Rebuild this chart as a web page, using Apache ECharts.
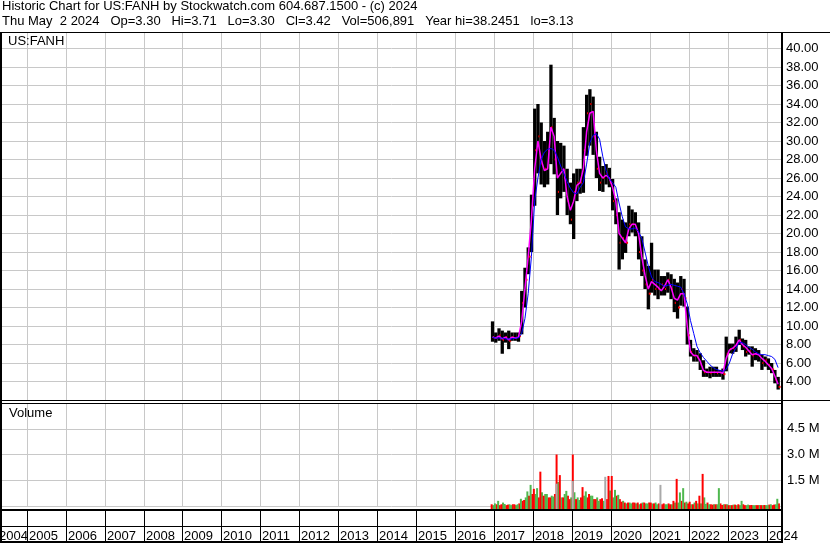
<!DOCTYPE html>
<html>
<head>
<meta charset="utf-8">
<script src="https://cdn.jsdelivr.net/npm/echarts@6/dist/echarts.min.js"></script>
<style>
html, body { margin: 0; padding: 0; background: #fff; }
#main { width: 830px; height: 543px; }
</style>
</head>
<body>
<div id="main"></div>
<script>
// monthly bars, Dec 2016 .. Apr 2024
var months = [
  '2016-12',
  '2017-01','2017-02','2017-03','2017-04','2017-05','2017-06','2017-07','2017-08','2017-09','2017-10','2017-11','2017-12',
  '2018-01','2018-02','2018-03','2018-04','2018-05','2018-06','2018-07','2018-08','2018-09','2018-10','2018-11','2018-12',
  '2019-01','2019-02','2019-03','2019-04','2019-05','2019-06','2019-07','2019-08','2019-09','2019-10','2019-11','2019-12',
  '2020-01','2020-02','2020-03','2020-04','2020-05','2020-06','2020-07','2020-08','2020-09','2020-10','2020-11','2020-12',
  '2021-01','2021-02','2021-03','2021-04','2021-05','2021-06','2021-07','2021-08','2021-09','2021-10','2021-11','2021-12',
  '2022-01','2022-02','2022-03','2022-04','2022-05','2022-06','2022-07','2022-08','2022-09','2022-10','2022-11','2022-12',
  '2023-01','2023-02','2023-03','2023-04','2023-05','2023-06','2023-07','2023-08','2023-09','2023-10','2023-11','2023-12',
  '2024-01','2024-02','2024-03','2024-04'
];
var high = [
  10.5,
  9.3, 9.75, 9.5, 9.3, 9.5, 9.3, 9.3, 9.3, 13.8, 16.3, 18.5, 24.2,
  33.5, 34.0, 32.0, 30.0, 31.0, 38.25, 32.5, 30.0, 29.8, 29.5, 27.0, 25.5,
  26.5, 27.0, 27.0, 31.5, 35.0, 35.6, 34.8, 31.0, 28.3, 27.3, 27.5, 27.1,
  25.9, 23.8, 22.3, 21.5, 21.2, 23.0, 22.6, 22.3, 21.2, 19.7, 17.2, 16.5,
  19.0, 16.1, 16.1, 15.4, 15.4, 15.8, 15.6, 15.1, 14.7, 15.4, 15.1, 12.1,
  8.5, 7.6, 7.4, 7.05, 6.3, 5.4, 5.6, 5.6, 5.6, 5.25, 5.4, 8.85,
  8.1, 8.1, 8.85, 9.6, 8.65, 8.5, 7.8, 7.8, 7.6, 7.4, 6.9, 6.7,
  6.5, 6.0, 5.25, 4.5
];
var low = [
  8.3,
  8.2, 8.4, 7.0, 8.2, 7.5, 8.4, 8.4, 8.3, 9.1, 12.0, 15.6, 18.0,
  23.0, 26.5, 25.3, 25.0, 25.3, 27.5, 26.4, 22.0, 23.8, 24.5, 22.0, 21.0,
  19.4, 23.5, 24.3, 24.4, 28.4, 29.5, 28.5, 26.0, 24.6, 24.5, 25.3, 25.0,
  22.5, 21.0, 16.1, 17.2, 17.9, 19.7, 20.1, 19.7, 17.2, 15.4, 14.0, 11.8,
  13.6, 13.3, 12.9, 13.3, 13.3, 13.6, 12.9, 11.5, 10.8, 12.2, 12.1, 8.0,
  6.7, 6.15, 6.15, 5.25, 4.5, 4.5, 4.35, 4.5, 4.5, 4.5, 4.2, 5.1,
  7.05, 7.0, 7.2, 7.95, 7.4, 6.7, 6.9, 5.6, 6.3, 6.15, 5.25, 5.6,
  5.25, 4.9, 3.8, 3.13
];
var close = [
  8.8,
  8.7, 9.0, 8.5, 8.8, 8.4, 8.8, 8.7, 8.9, 12.5, 15.0, 17.5, 23.0,
  29.0, 30.5, 27.5, 27.0, 29.0, 31.5, 28.0, 24.5, 27.0, 26.0, 23.5, 21.5,
  24.5, 25.5, 25.5, 29.0, 33.0, 34.0, 30.5, 27.0, 25.5, 26.0, 26.5, 25.5,
  23.5, 22.0, 19.0, 19.5, 19.0, 21.0, 21.0, 20.5, 18.0, 16.0, 14.5, 13.5,
  15.0, 14.0, 14.0, 14.5, 14.0, 15.0, 14.0, 12.5, 12.0, 14.0, 13.0, 9.0,
  7.2, 6.8, 6.6, 5.8, 5.0, 5.0, 4.9, 5.0, 4.9, 5.0, 4.8, 7.0,
  7.5, 7.6, 8.0, 8.5, 7.8, 7.2, 7.3, 6.8, 7.0, 6.8, 6.0, 6.3,
  5.8, 5.3, 4.2, 3.42
];
// short average (magenta) and long average (blue)
var maShort = [
  8.8,
  8.7, 8.9, 8.6, 8.8, 8.5, 8.8, 8.7, 8.8, 10.5, 14.0, 17.5, 21.5,
  27.0, 30.0, 28.0, 26.8, 27.0, 31.5, 30.5, 26.0, 26.5, 27.0, 24.0, 22.5,
  23.5, 25.2, 25.5, 27.0, 31.0, 33.0, 33.2, 29.0, 26.5, 26.0, 26.3, 26.0,
  25.0, 23.5, 20.0, 19.5, 19.0, 20.5, 21.0, 21.0, 20.0, 17.5, 15.5, 14.0,
  14.8, 14.5, 14.2, 13.8, 14.3, 15.0, 14.2, 13.0, 12.8, 13.5, 13.5, 10.0,
  7.2, 6.8, 6.8, 6.2, 5.2, 5.0, 5.0, 5.0, 5.0, 5.0, 4.9, 6.5,
  7.4, 7.6, 7.9, 8.5, 8.0, 7.7, 7.3, 6.9, 7.0, 6.9, 6.5, 6.2,
  5.8, 5.4, 4.6, 3.7
];
var maLong = [
  8.8,
  8.7, 8.7, 8.7, 8.6, 8.6, 8.6, 8.7, 8.7, 9.2, 10.8, 13.5, 17.5,
  23.5, 26.0, 28.0, 28.8, 29.1, 29.2, 29.0, 28.3, 27.3, 26.5, 25.6, 24.9,
  24.4, 24.3, 25.0, 25.5, 27.5, 29.8, 30.6, 30.8, 30.2, 28.3, 26.8, 25.9,
  25.5, 25.0, 23.3, 21.8, 20.7, 20.5, 20.5, 20.6, 20.2, 19.5, 18.0, 16.5,
  15.3, 14.8, 14.7, 14.5, 14.3, 14.4, 14.5, 14.4, 14.3, 14.2, 13.5, 12.4,
  10.6, 9.2, 7.8, 7.1, 6.6, 6.2, 5.8, 5.5, 5.3, 5.2, 5.1, 5.3,
  6.0, 7.0, 7.6, 8.2, 8.2, 8.0, 7.7, 7.5, 7.2, 7.0, 6.9, 6.9,
  6.8, 6.7, 6.4, 5.5
];
// volume in millions: first half of each month (peak) and second half
// colours r = down day, g = up day, x = grey; second half uses the other colour
var volume = [
  0.1,
  0.15, 0.3, 0.1, 0.12, 0.08, 0.05, 0.1, 0.1, 0.42, 0.35, 0.85, 1.23,
  1.0, 1.04, 2.0, 0.6, 0.7, 0.5, 0.55, 3.0, 1.8, 0.5, 0.88, 0.4,
  3.0, 0.4, 0.35, 1.1, 0.85, 0.7, 0.6, 0.4, 0.3, 0.45, 1.7, 1.75,
  1.75, 0.94, 0.65, 0.25, 0.2, 0.2, 0.15, 0.2, 0.2, 0.15, 0.2, 0.15,
  0.2, 0.15, 0.1, 1.23, 0.15, 0.1, 0.1, 0.3, 1.58, 0.79, 1.04, 0.25,
  0.25, 0.1, 0.3, 0.6, 1.87, 0.12, 0.1, 0.08, 0.1, 1.04, 0.06, 0.1,
  0.05, 0.05, 0.08, 0.1, 0.3, 0.05, 0.08, 0.06, 0.05, 0.05, 0.05, 0.06,
  0.05, 0.1, 0.08, 0.42
];
var volume2 = [
  0.05,
  0.1, 0.05, 0.2, 0.05, 0.1, 0.1, 0.05, 0.15, 0.3, 0.5, 0.6, 0.7,
  0.7, 0.5, 0.8, 0.7, 0.5, 0.6, 0.7, 1.4, 0.5, 0.7, 0.6, 0.5,
  0.8, 0.5, 0.5, 0.6, 0.5, 0.6, 0.4, 0.5, 0.4, 0.3, 0.4, 0.9,
  0.5, 0.6, 0.4, 0.3, 0.15, 0.2, 0.2, 0.15, 0.1, 0.2, 0.15, 0.2,
  0.15, 0.2, 0.15, 0.1, 0.1, 0.15, 0.1, 0.2, 0.2, 0.3, 0.2, 0.15,
  0.1, 0.2, 0.15, 0.15, 0.5, 0.2, 0.1, 0.1, 0.1, 0.15, 0.1, 0.1,
  0.05, 0.08, 0.05, 0.05, 0.1, 0.05, 0.05, 0.05, 0.05, 0.06, 0.05, 0.05,
  0.08, 0.05, 0.1, 0.15
];
var volColor = [
  'r',
  'g','g','r','g','r','g','r','g','g','r','g','g',
  'r','g','r','r','g','r','g','r','r','r','g','r',
  'r','r','g','r','g','r','g','r','g','r','x','r',
  'r','g','g','r','r','r','g','r','r','r','r','g',
  'r','r','g','x','r','g','r','r','r','g','g','g',
  'r','r','r','r','r','g','g','r','r','g','r','r',
  'r','r','r','r','g','r','g','r','g','r','r','r',
  'g','g','r','g'
];
var volGrey = {'2018-08': 1.3, '2019-01': 1.46};
var years = [2004, 2005, 2006, 2007, 2008, 2009, 2010, 2011, 2012, 2013, 2014,
  2015, 2016, 2017, 2018, 2019, 2020, 2021, 2022, 2023, 2024];

var FONT = '13px "Liberation Sans", Arial, sans-serif';
var GRIDC = '#c8c8c8';
var colors = {r: '#ff0000', g: '#4fb84f', x: '#a9a9a9'};
var other = {r: 'g', g: 'r', x: 'r'};

// month -> decimal year (middle of month)
var t = months.map(function (m) {
  var p = m.split('-');
  return +p[0] + (+p[1] - 0.5) / 12;
});

var chartDom = document.getElementById('main');
var myChart = echarts.init(chartDom);
var option;

function yearLine(params, api) {
  var p = api.coord([api.value(0), api.value(1)]);
  var cs = params.coordSys;
  var x = Math.round(p[0]) + 0.5;
  return {
    type: 'line',
    shape: {x1: x, y1: cs.y, x2: x, y2: cs.y + cs.height},
    style: {stroke: GRIDC, lineWidth: 1}
  };
}

function yearCell(params, api) {
  var yr = api.value(0);
  var p = api.coord([yr, 0.5]);
  var cs = params.coordSys;
  var x = Math.round(p[0]) + 0.5;
  return {
    type: 'group',
    children: [
      {type: 'line', shape: {x1: x, y1: cs.y, x2: x, y2: cs.y + cs.height}, style: {stroke: '#000', lineWidth: 1}},
      {type: 'text', x: Math.max(x + 1.5, -1), y: cs.y + 26,
        style: {text: String(yr), font: FONT, fill: '#000', textVerticalAlign: 'middle', verticalAlign: 'middle'}}
    ]
  };
}

function priceBar(params, api) {
  var x = api.value(0);
  var hi = api.coord([x, api.value(1)]);
  var lo = api.coord([x, api.value(2)]);
  var cl = api.coord([x, api.value(3)]);
  return {
    type: 'group',
    children: [
      {type: 'rect', shape: {x: hi[0] - 1.6, y: hi[1], width: 3.3, height: lo[1] - hi[1]}, style: {fill: '#000'}},
      {type: 'rect', shape: {x: cl[0] + 0.5, y: cl[1] - 1, width: 2, height: 2}, style: {fill: '#ff0000'}}
    ]
  };
}

function volBar(params, api) {
  var i = params.dataIndex;
  var x = api.value(0);
  var top = api.coord([x, api.value(1)]);
  var base = api.coord([x, 0]);
  var top2 = api.coord([api.value(2), api.value(3)]);
  var kids = [
    {type: 'rect', shape: {x: top2[0] - 1, y: top2[1], width: 2, height: base[1] - top2[1] + 3},
      style: {fill: colors[other[volColor[i]]]}},
    {type: 'rect', shape: {x: top[0] - 1, y: top[1], width: 2, height: base[1] - top[1] + 3},
      style: {fill: colors[volColor[i]]}}
  ];
  var g = volGrey[months[i]];
  if (g) {
    var gt = api.coord([x, g]);
    kids.push({type: 'rect', shape: {x: gt[0] - 1, y: gt[1], width: 2, height: base[1] - gt[1] + 3},
      style: {fill: colors.x}});
  }
  return {type: 'group', children: kids};
}

var XMIN = 2004.366, XMAX = 2024.366;
function xAx(i) {
  return {gridIndex: i, type: 'value', min: XMIN, max: XMAX, show: false};
}
function frame(x, y, w, h) {
  return {type: 'rect', z: 100, shape: {x: x, y: y, width: w, height: h}, style: {fill: '#000'}};
}
function label(x, y, s) {
  return {type: 'text', z: 100, x: x, y: y,
    style: {text: s, font: FONT, fill: '#000', textVerticalAlign: 'top', verticalAlign: 'top'}};
}

option = {
  animation: false,
  backgroundColor: '#fff',
  grid: [
    {left: 2, right: 49, top: 32, height: 368},
    {left: 2, right: 49, top: 403, height: 103},
    {left: 2, right: 49, top: 510, height: 32}
  ],
  xAxis: [xAx(0), xAx(1), xAx(2)],
  yAxis: [
    {
      gridIndex: 0, type: 'value', position: 'right', min: 2, max: 41.784, interval: 2,
      axisLine: {show: false}, axisTick: {show: false},
      splitLine: {lineStyle: {color: GRIDC, width: 1}},
      axisLabel: {
        margin: 5, color: '#000', fontSize: 13, fontFamily: '"Liberation Sans", Arial',
        showMinLabel: true, showMaxLabel: true, hideOverlap: false,
        formatter: function (v) {
          return (Math.abs(v - Math.round(v)) < 1e-6 && v >= 4 && v <= 40) ? v.toFixed(2) : '';
        }
      }
    },
    {
      gridIndex: 1, type: 'value', position: 'right', min: 0, max: 6, interval: 1.5,
      axisLine: {show: false}, axisTick: {show: false},
      splitLine: {lineStyle: {color: GRIDC, width: 1}},
      axisLabel: {
        margin: 6, color: '#000', fontSize: 13, fontFamily: '"Liberation Sans", Arial',
        formatter: function (v) { return (v > 0 && v < 5) ? v.toFixed(1) + ' M' : ''; }
      }
    },
    {gridIndex: 2, type: 'value', min: 0, max: 1, show: false}
  ],
  series: [
    {type: 'custom', xAxisIndex: 0, yAxisIndex: 0, silent: true, z: 1, renderItem: yearLine,
      data: years.slice(1).map(function (y) { return [y, 10]; })},
    {type: 'custom', xAxisIndex: 1, yAxisIndex: 1, silent: true, z: 1, renderItem: yearLine,
      data: years.slice(1).map(function (y) { return [y, 1]; })},
    {type: 'custom', xAxisIndex: 0, yAxisIndex: 0, silent: true, z: 3, renderItem: priceBar,
      encode: {x: 0, y: [1, 2]},
      data: months.map(function (m, i) { return [t[i], high[i], low[i], close[i]]; })},
    {type: 'line', xAxisIndex: 0, yAxisIndex: 0, silent: true, z: 4, showSymbol: false,
      lineStyle: {color: '#ff00ff', width: 1.5}, itemStyle: {color: '#ff00ff'},
      data: months.map(function (m, i) { return [t[i], maShort[i]]; })},
    {type: 'line', xAxisIndex: 0, yAxisIndex: 0, silent: true, z: 5, showSymbol: false,
      lineStyle: {color: '#0000ff', width: 1}, itemStyle: {color: '#0000ff'},
      data: months.map(function (m, i) { return [t[i], maLong[i]]; })},
    {type: 'custom', xAxisIndex: 1, yAxisIndex: 1, silent: true, z: 3, renderItem: volBar,
      encode: {x: [0, 2], y: [1, 3]},
      data: months.map(function (m, i) { return [t[i] - 1 / 48, volume[i], t[i] + 1 / 48, volume2[i]]; })},
    {type: 'custom', xAxisIndex: 2, yAxisIndex: 2, silent: true, z: 3, clip: false, renderItem: yearCell,
      data: years.map(function (y) { return [y, 0.5]; })}
  ],
  graphic: [
    label(2, 0, 'Historic Chart for US:FANH by Stockwatch.com 604.687.1500 - (c) 2024'),
    label(2, 15, 'Thu May  2 2024   Op=3.30   Hi=3.71   Lo=3.30   Cl=3.42   Vol=506,891   Year hi=38.2451   lo=3.13'),
    label(8, 35, 'US:FANH'),
    label(9, 407, 'Volume'),
    frame(0, 32, 830, 1),
    frame(0, 32, 2, 511),
    frame(781, 32, 2, 511),
    frame(0, 400, 830, 1),
    frame(0, 403, 781, 1),
    frame(0, 509, 781, 2),
    frame(0, 526, 781, 1),
    frame(0, 541, 781, 2)
  ]
};

option && myChart.setOption(option);
</script>
</body>
</html>
